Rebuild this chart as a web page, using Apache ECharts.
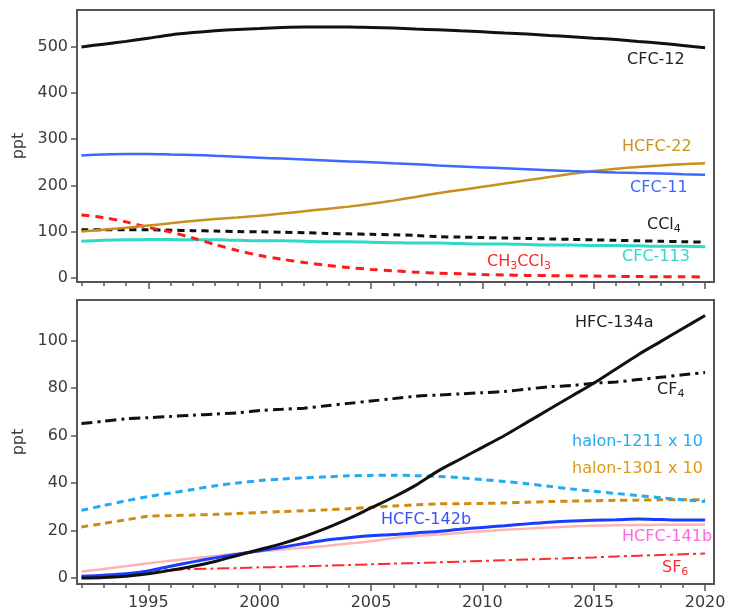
<!DOCTYPE html>
<html>
<head>
<meta charset="utf-8">
<script src="https://cdn.jsdelivr.net/npm/echarts@6/dist/echarts.min.js"></script>
<style>
  html, body { margin: 0; background: #fff; }
  #chart { width: 742px; height: 616px; }
</style>
</head>
<body>
<div id="chart"></div>
<script>
// years 1992 - 2020, one value per year
const years = [1992, 1993, 1994, 1995, 1996, 1997, 1998, 1999, 2000, 2001, 2002, 2003, 2004, 2005, 2006,
  2007, 2008, 2009, 2010, 2011, 2012, 2013, 2014, 2015, 2016, 2017, 2018, 2019, 2020]
const majorYears = [1995, 2000, 2005, 2010, 2015, 2020]
const topTicks = [0, 100, 200, 300, 400, 500]
const bottomTicks = [0, 20, 40, 60, 80, 100]

// upper panel
const cfc12 = [500, 506, 512, 519, 526, 531, 535, 538, 540, 542, 543, 543, 543, 542, 541,
  539, 537, 535, 533, 530, 528, 525, 522, 519, 516, 512, 508, 503, 498]
const cfc11 = [265, 267, 268, 268, 267, 266, 264, 262, 260, 258, 256, 254, 252, 250, 248,
  246, 243, 241, 239, 237, 235, 233, 231, 229.5, 228, 227, 226, 224, 223]
const hcfc22 = [100, 104, 108, 113, 118, 123, 127, 130.5, 134, 139, 144, 149, 154, 160, 167,
  175, 183, 190, 197, 204, 211, 218, 225, 231, 236, 240, 243, 246, 248]
const ccl4 = [104, 104, 104, 104, 103, 102, 101, 100, 99.5, 98.5, 97.5, 96, 95, 94, 93,
  91.5, 89, 88, 87, 86, 85, 84, 83, 82, 81, 80, 79, 78, 77]
const cfc113 = [79, 81, 82, 83, 83, 82, 82, 81, 80, 80, 79, 78, 78, 77, 76,
  75, 75, 74, 73, 73, 72, 71, 71, 70, 70, 69, 68, 68, 67]
const ch3ccl3 = [136, 130, 121, 109, 99, 86, 72, 59, 48, 40, 33, 27, 22, 18, 15,
  12, 10, 8.5, 7, 6, 5, 4.5, 4, 3.5, 3, 2.5, 2, 2, 1.5]

// lower panel
const hfc134a = [0, 0.2, 0.8, 1.8, 3.3, 5, 7, 9.5, 12, 14.5, 17.5, 21, 25, 29.5, 34,
  39, 45, 50, 55, 60, 65.5, 71, 76.5, 82, 88, 94, 99.5, 105, 110.5]
const cf4 = [65, 66, 67, 67.5, 68, 68.5, 69, 69.5, 70.5, 71, 71.5, 72.5, 73.5, 74.5, 75.5,
  76.5, 77, 77.5, 78, 78.5, 79.5, 80.5, 81, 82, 82.5, 83.5, 84.5, 85.5, 86.5]
const halon1211 = [28.5, 30.5, 32.5, 34.3, 35.8, 37.3, 38.8, 40, 41, 41.7, 42.2, 42.6, 43, 43.2, 43.3,
  43.1, 42.8, 42.2, 41.4, 40.6, 39.7, 38.6, 37.5, 36.5, 35.6, 34.7, 33.8, 33, 32.2]
const halon1301 = [21.5, 23, 24.5, 26, 26.3, 26.5, 26.8, 27.2, 27.6, 28, 28.3, 28.7, 29.2, 29.8, 30.3,
  30.8, 31.2, 31.3, 31.4, 31.6, 31.9, 32.2, 32.4, 32.5, 32.7, 32.8, 32.9, 33, 33]
const hcfc142b = [0.8, 1.2, 1.8, 3, 5, 6.8, 8.5, 10, 11.5, 13, 14.5, 16, 17, 17.8, 18.3,
  19, 19.6, 20.5, 21.3, 22, 22.8, 23.5, 24, 24.3, 24.5, 24.8, 24.6, 24.4, 24.4]
const hcfc141b = [2.8, 3.8, 5, 6.2, 7.3, 8.3, 9.3, 10.3, 11.2, 12, 12.8, 13.5, 14.5, 15.5, 16.8,
  17.8, 18.3, 19, 19.7, 20.3, 20.8, 21.3, 21.7, 22, 22.2, 22.3, 22.4, 22.4, 22.5]
const sf6 = [null, null, null, 3.3, 3.5, 3.8, 4.0, 4.2, 4.5, 4.7, 5.0, 5.2, 5.5, 5.8, 6.1,
  6.3, 6.6, 6.9, 7.2, 7.5, 7.8, 8.1, 8.4, 8.7, 9.1, 9.4, 9.7, 10.0, 10.3]

const FONT = 'DejaVu Sans'
const AXIS = '#555'
const TEXT = '#3a3a3a'

const labels = [
  { text: 'CFC-12', x: 627, y: 60, color: '#222' },
  { text: 'HCFC-22', x: 622, y: 147, color: '#c8921e' },
  { text: 'CFC-11', x: 630, y: 188, color: '#3f68ff' },
  { text: 'CCl{s|4}', x: 647, y: 225, color: '#222' },
  { text: 'CH{s|3}CCl{s|3}', x: 487, y: 262, color: '#ff2a2a' },
  { text: 'CFC-113', x: 622, y: 257, color: '#2fd8c8' },
  { text: 'HFC-134a', x: 575, y: 323, color: '#222' },
  { text: 'CF{s|4}', x: 657, y: 390, color: '#222' },
  { text: 'halon-1211 x 10', x: 572, y: 442, color: '#22aaf2' },
  { text: 'halon-1301 x 10', x: 572, y: 469, color: '#dc9a18' },
  { text: 'HCFC-142b', x: 381, y: 520, color: '#3552ff' },
  { text: 'HCFC-141b', x: 622, y: 537, color: '#ff66e0' },
  { text: 'SF{s|6}', x: 662, y: 568, color: '#ff2a2a' }
]

function zip(values) {
  return years.map((y, i) => [y, values[i]])
}

function line(name, values, color, width, type, panel) {
  return {
    name: name,
    type: 'line',
    xAxisIndex: panel === 0 ? 0 : 2,
    yAxisIndex: panel,
    data: zip(values),
    showSymbol: false,
    symbol: 'none',
    smooth: 0.3,
    lineStyle: { color: color, width: width, type: type, cap: 'butt' }
  }
}

function xAxes(gridIndex, withLabels) {
  return [{
    type: 'value',
    gridIndex: gridIndex,
    min: 1991.8,
    max: 2020.4,
    position: 'bottom',
    axisLine: { show: true, onZero: false, lineStyle: { color: AXIS, width: 2 } },
    axisTick: { show: true, customValues: majorYears, length: 7, lineStyle: { color: AXIS, width: 1.5 } },
    axisLabel: {
      show: withLabels,
      customValues: majorYears,
      formatter: v => String(v),
      margin: 11,
      color: TEXT,
      fontSize: 16,
      fontFamily: FONT
    },
    splitLine: { show: false }
  }, {
    type: 'value',
    gridIndex: gridIndex,
    min: 1991.8,
    max: 2020.4,
    position: 'bottom',
    axisLine: { show: false, onZero: false },
    axisTick: { show: true, customValues: years, length: 4, lineStyle: { color: AXIS, width: 1.5 } },
    axisLabel: { show: false },
    splitLine: { show: false }
  }]
}

function yAxis(gridIndex, min, max, ticks) {
  return {
    type: 'value',
    gridIndex: gridIndex,
    min: min,
    max: max,
    name: 'ppt',
    nameLocation: 'middle',
    nameGap: 45,
    nameTextStyle: { color: TEXT, fontSize: 16, fontFamily: FONT },
    axisLine: { show: true, onZero: false, lineStyle: { color: AXIS, width: 2 } },
    axisTick: { show: true, customValues: ticks, length: 6, lineStyle: { color: AXIS, width: 1.5 } },
    axisLabel: { customValues: ticks, margin: 9, color: TEXT, fontSize: 16, fontFamily: FONT },
    splitLine: { show: false }
  }
}

const myChart = echarts.init(document.getElementById('chart'))
const option = {
  animation: false,
  backgroundColor: '#fff',
  grid: [
    { left: 77, top: 10, right: 28, height: 272, show: true, borderColor: AXIS, borderWidth: 2 },
    { left: 77, top: 300, right: 28, height: 284, show: true, borderColor: AXIS, borderWidth: 2 }
  ],
  xAxis: [...xAxes(0, false), ...xAxes(1, true)],
  yAxis: [yAxis(0, -9.3, 580, topTicks), yAxis(1, -2.5, 117, bottomTicks)],
  series: [
    line('CFC-113', cfc113, '#2fd8c8', 3, 'solid', 0),
    line('CCl4', ccl4, '#111', 3, [7, 5], 0),
    line('CH3CCl3', ch3ccl3, '#ff1a1a', 3, [8, 6], 0),
    line('HCFC-22', hcfc22, '#c8901e', 2.5, 'solid', 0),
    line('CFC-11', cfc11, '#3f68ff', 2.5, 'solid', 0),
    line('CFC-12', cfc12, '#111', 3, 'solid', 0),
    line('HCFC-141b', hcfc141b, '#ffb4b4', 2.5, 'solid', 1),
    line('SF6', sf6, '#ff2a2a', 2, [12, 4, 3, 4], 1),
    line('halon-1301 x 10', halon1301, '#d08a10', 3, [7, 5], 1),
    line('halon-1211 x 10', halon1211, '#22aaf2', 3, [7, 5], 1),
    line('HCFC-142b', hcfc142b, '#1a3cff', 3, 'solid', 1),
    line('CF4', cf4, '#111', 3, [11, 5, 3, 5], 1),
    line('HFC-134a', hfc134a, '#111', 3, 'solid', 1)
  ],
  graphic: labels.map(l => ({
    type: 'text',
    x: l.x,
    y: l.y,
    z: 100,
    style: {
      text: l.text,
      fill: l.color,
      fontSize: 16,
      fontFamily: FONT,
      verticalAlign: 'middle',
      rich: {
        s: { fontSize: 11, fontFamily: FONT, fill: l.color, padding: [9, 0, 0, 0] }
      }
    }
  }))
}
myChart.setOption(option)
</script>
</body>
</html>
